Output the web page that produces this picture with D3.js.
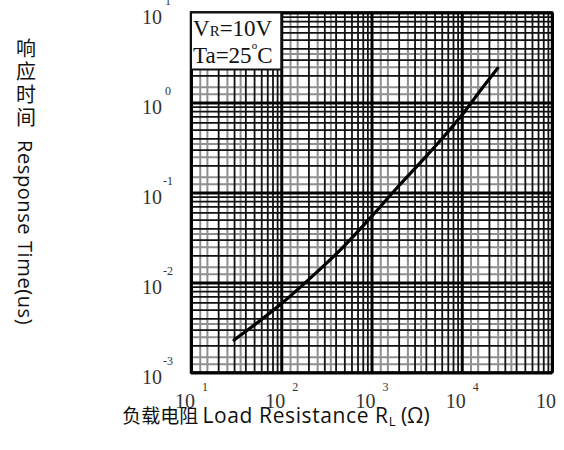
<!DOCTYPE html>
<html>
<head>
<meta charset="utf-8">
<script src="https://cdn.jsdelivr.net/npm/d3@7"></script>
<style>
  body { margin: 0; background: #fff; }
  svg { display: block; }
</style>
</head>
<body>
<div id="chart"></div>
<script>
// Load resistance (ohm) vs response time (us)
const resistance = [30, 100, 200, 500, 1000, 2000, 4000, 7000, 10000, 16000, 25000];
const responseTime = [0.0023, 0.0058, 0.0107, 0.0255, 0.054, 0.118, 0.25, 0.47, 0.72, 1.35, 2.4];

const xDecades = [10, 100, 1000, 10000, 100000];
const xExponents = ['1', '2', '3', '4', ''];
const yDecades = [0.001, 0.01, 0.1, 1, 10];
const yExponents = ['-3', '-2', '-1', '0', '1'];
const minorSteps = [2, 3, 4, 5, 6, 7, 8, 9];
const faintSteps = [1.25, 1.5, 2.5, 3.5];

const width = 564;
const height = 450;
const margin = { top: 12.5, right: 12, bottom: 77.5, left: 191 };
const innerWidth = width - margin.left - margin.right;
const innerHeight = height - margin.top - margin.bottom;

const svg = d3.select('#chart')
  .append('svg')
  .attr('width', width)
  .attr('height', height);

const g = svg.append('g')
  .attr('transform', `translate(${margin.left},${margin.top})`);

const x = d3.scaleLog().domain([10, 1e5]).range([0, innerWidth]);
const y = d3.scaleLog().domain([1e-3, 10]).range([innerHeight, 0]);

// expand a step list over each decade
const spread = (decades, steps) => decades.slice(0, -1)
  .flatMap((d) => steps.map((s) => d * s));

// draw one set of grid lines through d3 axes
function grid(values, stroke, strokeWidth) {
  g.append('g')
    .attr('transform', `translate(0,${innerHeight})`)
    .call(d3.axisBottom(x).tickValues(values).tickSize(-innerHeight).tickFormat(''))
    .call((a) => a.select('.domain').remove())
    .selectAll('line')
    .attr('stroke', stroke)
    .attr('stroke-width', strokeWidth);
  g.append('g')
    .call(d3.axisLeft(y).tickValues(values.map((v) => v / 1e4)).tickSize(-innerWidth).tickFormat(''))
    .call((a) => a.select('.domain').remove())
    .selectAll('line')
    .attr('stroke', stroke)
    .attr('stroke-width', strokeWidth);
}

grid(spread(xDecades, faintSteps), '#8f8f8f', 2);
grid(spread(xDecades, minorSteps), '#111', 1.8);
grid(xDecades, '#000', 3);

// plot frame
g.append('rect')
  .attr('width', innerWidth)
  .attr('height', innerHeight)
  .attr('fill', 'none')
  .attr('stroke', '#000')
  .attr('stroke-width', 2.5);

// condition box in the top-left cell
g.append('rect')
  .attr('x', 0)
  .attr('y', 0)
  .attr('width', x(100))
  .attr('height', 57)
  .attr('fill', '#fff')
  .attr('stroke', '#111')
  .attr('stroke-width', 2);

const serif = '"Liberation Serif", "DejaVu Serif", serif';
const boxText = g.append('g')
  .attr('font-family', serif)
  .attr('fill', '#111');
const vr = boxText.append('text').attr('x', 2).attr('y', 23).attr('font-size', 23);
vr.append('tspan').text('V');
vr.append('tspan').attr('font-size', 15).text('R');
vr.append('tspan').text('=10V');
const ta = boxText.append('text').attr('x', 2).attr('y', 50).attr('font-size', 23);
ta.append('tspan').text('Ta=25');
ta.append('tspan').attr('font-size', 11).attr('dy', -14).text('o');
ta.append('tspan').attr('dy', 14).text('C');

// response curve
const line = d3.line()
  .x((d, i) => x(resistance[i]))
  .y((d) => y(d))
  .curve(d3.curveMonotoneX);

g.append('path')
  .datum(responseTime)
  .attr('d', line)
  .attr('fill', 'none')
  .attr('stroke', '#000')
  .attr('stroke-width', 3.2)
  .attr('stroke-linecap', 'round');

// tick labels: "10" with a raised exponent
const labels = svg.append('g')
  .attr('font-family', serif)
  .attr('fill', '#333');

xDecades.forEach((v, i) => {
  const px = margin.left + x(v);
  labels.append('text')
    .attr('x', px - 6)
    .attr('y', 408)
    .attr('text-anchor', 'middle')
    .attr('font-size', 20)
    .text('10');
  labels.append('text')
    .attr('x', px + 14)
    .attr('y', 391)
    .attr('text-anchor', 'middle')
    .attr('font-size', 12)
    .text(xExponents[i]);
});

yDecades.forEach((v, i) => {
  const py = margin.top + y(v);
  labels.append('text')
    .attr('x', 152)
    .attr('y', py + 11)
    .attr('text-anchor', 'middle')
    .attr('font-size', 20)
    .text('10');
  labels.append('text')
    .attr('x', 168)
    .attr('y', py - 8)
    .attr('text-anchor', 'middle')
    .attr('font-size', 12)
    .text(yExponents[i]);
});

// axis titles
const cjk = '"Noto Sans CJK SC", sans-serif';
const latin = '"Open Sans", sans-serif';

const xTitle = svg.append('text')
  .attr('x', 276)
  .attr('y', 423)
  .attr('text-anchor', 'middle')
  .attr('fill', '#111')
  .attr('font-size', 21);
xTitle.append('tspan').attr('font-family', cjk).attr('font-size', 19).text('负载电阻 ');
xTitle.append('tspan').attr('font-family', latin).attr('letter-spacing', 0.6).text('Load Resistance R');
xTitle.append('tspan').attr('font-family', latin).attr('font-size', 13).attr('dy', 3).text('L');
xTitle.append('tspan').attr('font-family', latin).attr('dy', -3).text(' (Ω)');

['响', '应', '时', '间'].forEach((ch, i) => {
  svg.append('text')
    .attr('x', 26)
    .attr('y', 56 + i * 23)
    .attr('text-anchor', 'middle')
    .attr('font-family', cjk)
    .attr('font-size', 20)
    .attr('fill', '#111')
    .text(ch);
});

svg.append('text')
  .attr('transform', 'translate(18,140) rotate(90)')
  .attr('font-family', latin)
  .attr('font-size', 20)
  .attr('letter-spacing', 0.6)
  .attr('fill', '#111')
  .text('Response Time(us)');
</script>
</body>
</html>
